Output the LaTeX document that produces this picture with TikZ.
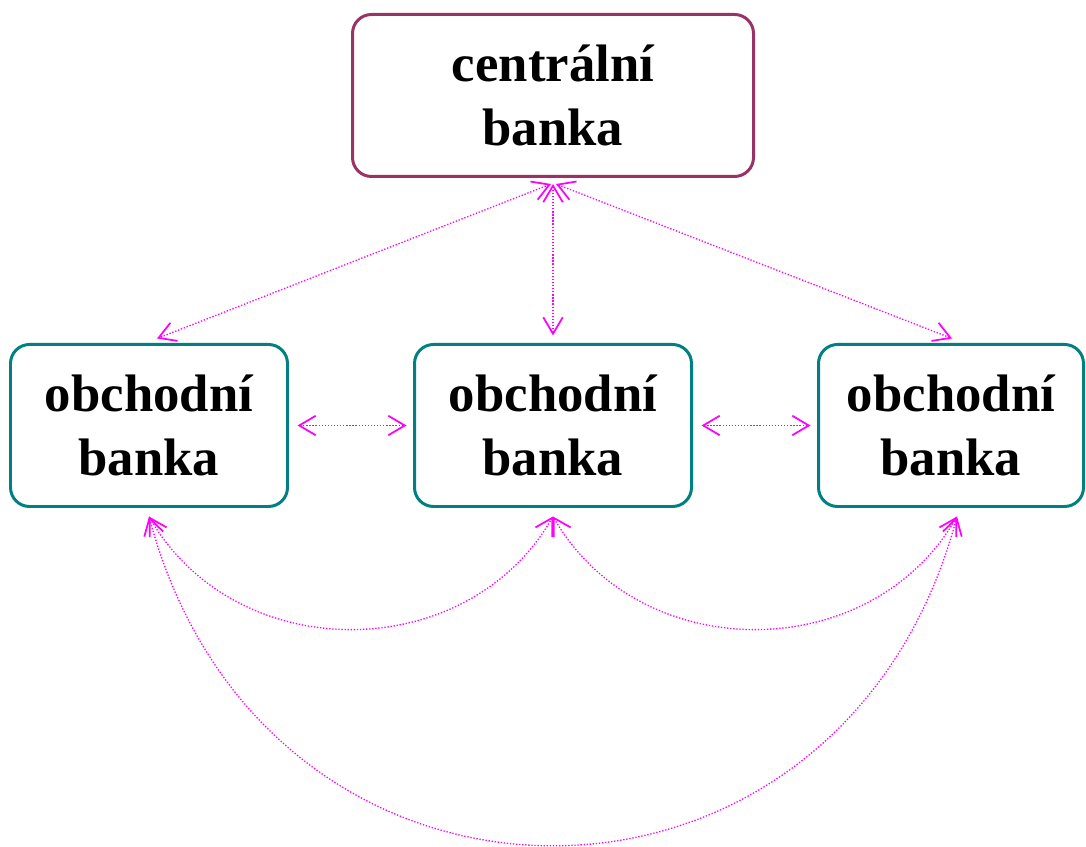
\documentclass[tikz,border=0pt]{standalone}
\usepackage{fontspec}
\setmainfont{Liberation Serif}
\usetikzlibrary{arrows.meta}
\definecolor{cbframe}{RGB}{153,51,102}
\definecolor{obframe}{RGB}{0,128,128}
\definecolor{linkcol}{RGB}{255,0,255}

\begin{document}
\begin{tikzpicture}[>={Straight Barb[length=3.3mm,width=3.9mm,line width=1pt]},
    bank/.style={draw=obframe, line width=1.7pt, rounded corners=0.38cm,
        minimum width=5.54cm, minimum height=3.24cm, align=center,
        font=\fontsize{30}{36}\selectfont\bfseries},
    link/.style={linkcol, densely dotted, line width=0.75pt, <->}]

    \useasboundingbox (0,0) rectangle (21.72,16.92);

    \node[bank, draw=cbframe, minimum width=8.02cm] (cb) at (11.06,15.01) {centrální\\banka};
    \node[bank] (ob1) at (2.98,8.41) {obchodní\\banka};
    \node[bank] (ob2) at (11.06,8.41) {obchodní\\banka};
    \node[bank, minimum width=5.3cm] (ob3) at (19.02,8.41) {obchodní\\banka};

    % centralni banka -- obchodni banky
    \draw[link] ([xshift=-0.4mm,yshift=-1.2mm]cb.south) -- ([xshift=1.6mm,yshift=0.9mm]ob1.north);
    \draw[link] ([yshift=-1.2mm]cb.south) -- ([yshift=1.5mm]ob2.north);
    \draw[link] ([xshift=0.6mm,yshift=-1.2mm]cb.south) -- ([xshift=0.2mm,yshift=0.9mm]ob3.north);

    % mezi obchodnimi bankami
    \draw[link, shorten <=1.7mm, shorten >=1.3mm] (ob1) -- (ob2);
    \draw[link, shorten <=1.7mm, shorten >=1.3mm] (ob2) -- (ob3);

    \draw[link] ([yshift=-1.7mm]ob1.south) to[out=-60, in=-120, looseness=1.1] ([yshift=-1.7mm]ob2.south);
    \draw[link] ([yshift=-1.7mm]ob2.south) to[out=-60, in=-120, looseness=1.1] ([xshift=1.2mm,yshift=-1.7mm]ob3.south);
    \draw[link] ([yshift=-1.7mm]ob1.south) to[out=-75, in=-105, looseness=1.44] ([xshift=1.2mm,yshift=-1.7mm]ob3.south);
\end{tikzpicture}
\end{document}
